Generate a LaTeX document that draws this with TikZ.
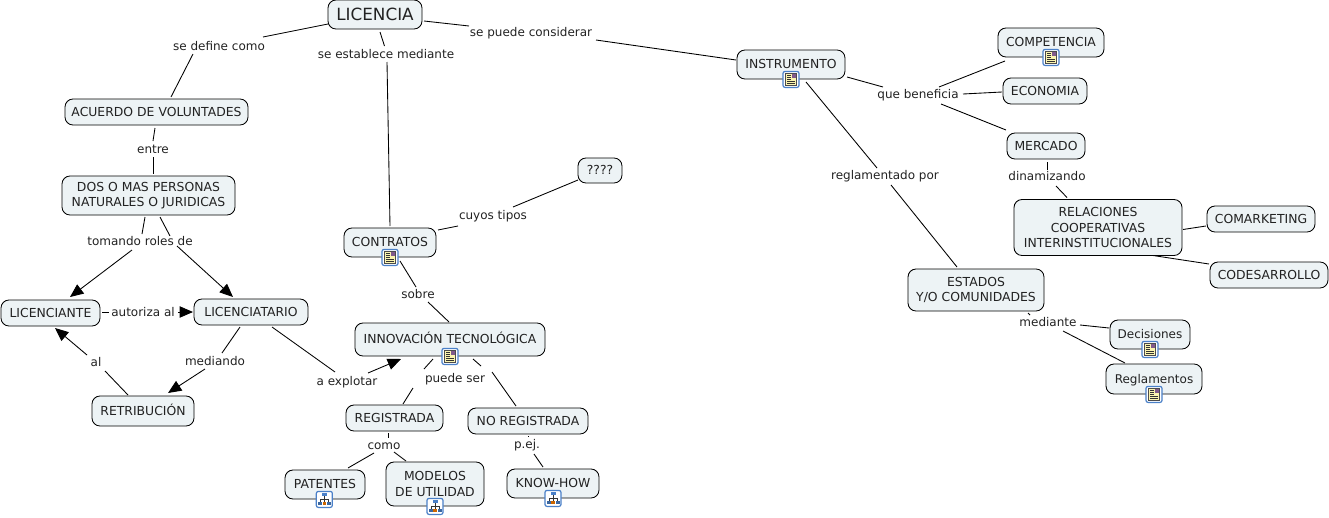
\documentclass[tikz,border=0pt]{standalone}
\usepackage{fontspec}
\setmainfont{DejaVu Sans}
\usetikzlibrary{arrows.meta}
\definecolor{boxfill}{HTML}{EDF3F5}
\definecolor{ink}{HTML}{222222}
\definecolor{iconblue}{HTML}{4A80C8}
\definecolor{iconyellow}{HTML}{FBF5B0}
\tikzset{
  x=0.75pt,y=-0.75pt,
  every node/.style={inner sep=0pt,outer sep=0pt,text=ink},
  boxbase/.style={draw=black,line width=0.65pt,rounded corners=6pt,fill=boxfill,font=\fontsize{9.3pt}{11.4pt}\selectfont,align=center},
  box/.style n args={2}{boxbase,minimum width=#1*0.75pt,minimum height=#2*0.75pt},
  one/.style={text height=8.3pt,text depth=1.6pt},
  lower/.style={font=\fontsize{9pt}{11pt}\selectfont},
  lbl/.style={font=\fontsize{9pt}{11pt}\selectfont,text height=8.3pt,text depth=1.8pt},
  link/.style={draw=black,line width=0.65pt},
  tip/.style={link,-{Triangle[length=10pt,width=8.5pt]}},
  docicon/.pic={
    \draw[draw=iconblue,line width=0.9pt,fill=white,rounded corners=1.5pt] (-8,-8) rectangle (8,8);
    \draw[draw=black!70,line width=0.4pt,fill=iconyellow] (-5.5,-6) rectangle (5.5,6);
    \fill[iconblue!70!red] (0.5,-5.5) rectangle (5,-1);
    \foreach \yy in {-4,-2,0}{\draw[black!80,line width=0.45pt] (-4,\yy) -- (-0.5,\yy);}
    \foreach \yy in {2,4}{\draw[black!80,line width=0.45pt] (-4,\yy) -- (4,\yy);}
  },
  mapicon/.pic={
    \draw[draw=iconblue,line width=0.9pt,fill=white,rounded corners=1.5pt] (-8,-8) rectangle (8,8);
    \draw[black!80,line width=0.45pt] (0,-3) -- (0,3) (-4,0) -- (4,0) (-4,0) -- (-4,3) (4,0) -- (4,3);
    \fill[iconblue] (-2.5,-6) rectangle (2.5,-3);
    \fill[iconblue!80!black] (-6.5,2.5) rectangle (-2.5,6);
    \fill[orange!80!black] (-1.8,2.5) rectangle (1.8,6);
    \fill[iconblue!80!black] (2.5,2.5) rectangle (6.5,6);
  }
}
\newcommand{\lk}[4]{\draw[link] ([shift={(#2)}]#1.center) -- ([shift={(#4)}]#3.center);}
\newcommand{\ar}[4]{\draw[tip] ([shift={(#2)}]#1.center) -- ([shift={(#4)}]#3.center);}
\begin{document}
\begin{tikzpicture}
\useasboundingbox (0,0) rectangle (1329,518);
% concepts
\node[box={94}{29},font=\fontsize{12.6pt}{14pt}\selectfont] (lic) at (375,14.5) {LICENCIA};
\node[box={183}{26},one] (acu) at (156.5,112) {ACUERDO DE VOLUNTADES};
\node[box={173}{39}] (dos) at (148.5,195.5) {DOS O MAS PERSONAS\\NATURALES O JURIDICAS};
\node[box={99}{26},one] (lnte) at (50.5,313) {LICENCIANTE};
\node[box={114}{26},one] (ltar) at (251,312) {LICENCIATARIO};
\node[box={102}{30},one] (ret) at (143,411) {RETRIBUCIÓN};
\node[box={92}{29},one] (con) at (390,242.5) {CONTRATOS};
\node[box={44}{25},one] (q) at (600,170.5) {????};
\node[box={190}{33},one] (inn) at (450,339.5) {INNOVACIÓN TECNOLÓGICA};
\node[box={97}{26},one] (reg) at (394.5,418) {REGISTRADA};
\node[box={120}{26},one] (nor) at (528,421) {NO REGISTRADA};
\node[box={80}{29},one] (pat) at (325,484.5) {PATENTES};
\node[box={98}{44}] (mod) at (435,484) {MODELOS\\DE UTILIDAD};
\node[box={92}{29},one] (kno) at (553,483.5) {KNOW-HOW};
\node[box={108}{29},one] (ins) at (791,64.5) {INSTRUMENTO};
\node[box={106}{29},one] (cmp) at (1051,42.5) {COMPETENCIA};
\node[box={84}{26},one] (eco) at (1045,91) {ECONOMIA};
\node[box={78}{26},one] (mer) at (1046,146) {MERCADO};
\node[box={168}{56}] (rel) at (1098,227.5) {RELACIONES\\COOPERATIVAS\\INTERINSTITUCIONALES};
\node[box={108}{26},one] (cmk) at (1261,219) {COMARKETING};
\node[box={118}{26},one] (cod) at (1269,275) {CODESARROLLO};
\node[box={136}{42}] (est) at (976,290) {ESTADOS\\Y/O COMUNIDADES};
\node[box={80}{29},one,lower] (dec) at (1150,334.5) {Decisiones};
\node[box={96}{30},one,lower] (rgl) at (1154,379) {Reglamentos};
% linking phrases
\node[lbl] (sdc) at (219,46) {se define como};
\node[lbl] (sem) at (386,54) {se establece mediante};
\node[lbl] (spc) at (531,32) {se puede considerar};
\node[lbl] (ent) at (153,149) {entre};
\node[lbl] (trd) at (140,241) {tomando roles de};
\node[lbl] (aut) at (143,312) {autoriza al};
\node[lbl] (med) at (215,361) {mediando};
\node[lbl] (al) at (96,362) {al};
\node[lbl] (aex) at (347,381) {a explotar};
\node[lbl] (sob) at (418,294) {sobre};
\node[lbl] (cuy) at (493,215) {cuyos tipos};
\node[lbl] (pue) at (455,378) {puede ser};
\node[lbl] (com) at (384,445) {como};
\node[lbl] (pej) at (527,444) {p.ej.};
\node[lbl] (que) at (918,94) {que beneficia};
\node[lbl] (din) at (1047,176) {dinamizando};
\node[lbl] (rpo) at (885,175) {reglamentado por};
\node[lbl] (mdi) at (1048,322) {mediante};
% icons
\pic at ([yshift=-0.3pt]con.south) {docicon};
\pic at ([yshift=-0.3pt]inn.south) {docicon};
\pic at ([yshift=-0.3pt]ins.south) {docicon};
\pic at ([yshift=-0.3pt]cmp.south) {docicon};
\pic at ([yshift=-0.3pt]dec.south) {docicon};
\pic at ([yshift=-0.3pt]rgl.south) {docicon};
\pic at ([yshift=-0.3pt,xshift=-0.5pt]pat.south) {mapicon};
\pic at ([yshift=-0.3pt]mod.south) {mapicon};
\pic at ([yshift=-0.3pt]kno.south) {mapicon};
% connectors
\lk{lic}{-47,9.5}{sdc}{44,-9}
\lk{sdc}{-26,8}{acu}{14.5,-15}
\lk{lic}{5,17.5}{sem}{-1.5,-8}
\lk{sem}{1,8}{con}{0,-16.5}
\lk{lic}{49,6.5}{spc}{-62,-6}
\lk{spc}{65,8}{ins}{-55,-4.5}
\lk{acu}{-1.5,16}{ent}{0,-8}
\lk{ent}{0,8}{dos}{4.5,-21.5}
\lk{dos}{-3.5,21.5}{trd}{2,-7}
\lk{dos}{11.5,21.5}{trd}{30,-5}
\ar{trd}{-8,9}{lnte}{19.5,-16}
\ar{trd}{37,5}{ltar}{-18,-15}
\lk{lnte}{51.5,-0.5}{aut}{-34,0.5}
\ar{aut}{35,0}{ltar}{-58,0}
\lk{ltar}{-11,15}{med}{7,-8}
\ar{med}{-10,8}{ret}{25,-18}
\lk{ret}{-15,-16}{al}{9,9}
\ar{al}{-9,-7}{lnte}{4.5,15}
\lk{ltar}{21,15}{aex}{-12,-9}
\ar{aex}{21,-8}{inn}{-49,19.5}
\lk{con}{48,-12.5}{cuy}{-35,11}
\lk{cuy}{20,-8}{q}{-22,9.5}
\lk{con}{10,18.5}{sob}{-2,-7}
\lk{sob}{10,8}{inn}{-1,-17.5}
\lk{inn}{-17,19.5}{pue}{-31,-9}
\lk{inn}{23,19.5}{pue}{26,-12}
\lk{pue}{-42,10}{reg}{8.5,-14}
\lk{pue}{37,-6}{nor}{-12,-15}
\lk{reg}{-6.5,15}{com}{4,-7}
\lk{com}{-10,8}{pat}{23,-16.5}
\lk{com}{10,7}{mod}{-29,-23}
\lk{nor}{0,15}{pej}{1,-7}
\lk{pej}{7,10}{kno}{-10,-16.5}
\lk{ins}{56,12.5}{que}{-35,-7}
\lk{que}{21,-7}{cmp}{-46,18.5}
\lk{que}{45,0}{eco}{-43,1}
\lk{que}{23,10}{mer}{-40,-16}
\lk{ins}{15,17.5}{rpo}{-8,-7}
\lk{rpo}{6,10}{est}{-19,-23}
\lk{mer}{1,16}{din}{0,-6}
\lk{din}{9,10}{rel}{-31,-30}
\lk{rel}{85,2}{cmk}{-55,7}
\lk{rel}{55,28}{cod}{-60,-11}
\lk{est}{52,23}{mdi}{-18,-7}
\lk{mdi}{32,3}{dec}{-41,-6.5}
\lk{mdi}{15,9}{rgl}{-29,-16}
\end{tikzpicture}
\end{document}
